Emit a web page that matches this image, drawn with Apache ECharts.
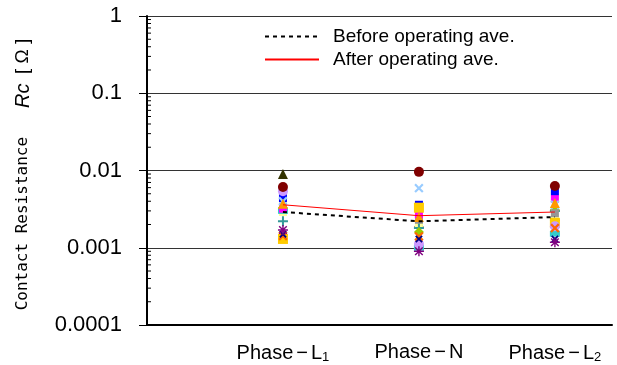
<!DOCTYPE html>
<html>
<head>
<meta charset="utf-8">
<script src="https://cdn.jsdelivr.net/npm/echarts@6/dist/echarts.min.js"></script>
<style>
  html, body { margin: 0; padding: 0; background: #fff; }
  #chart { width: 617px; height: 365px; }
</style>
</head>
<body>
<div id="chart"></div>
<script>
// Phase positions on the horizontal value axis
const phasePos = [1, 2, 3];
const phaseNames = ['Phase{d|−}L{sub|1}', 'Phase{d|−}N', 'Phase{d|−}L{sub|2}'];

// Decade tick labels on the log axis
const yTicks = [0.0001, 0.001, 0.01, 0.1, 1];

// Averages per phase [L1, N, L2]
const beforeAve = [0.0029, 0.0022, 0.0025];
const afterAve  = [0.0036, 0.0026, 0.0029];

// Individual contact measurements per sample, [L1, N, L2]
const sOlive     = [0.0090, 0.0021, 0.0026];
const sDarkRed   = [0.0061, 0.0096, 0.0063];
const sBlue      = [0.0044, 0.0036, 0.0054];
const sLightBlue = [0.0040, 0.0059, 0.0036];
const sPlum      = [0.0054, 0.00112, 0.0019];
const sMagenta   = [0.0032, 0.0027, 0.0043];
const sOrangeTri = [0.0037, 0.0025, 0.0038];
const sGray      = [0.0034, 0.0023, 0.0028];
const sGreen     = [0.0033, 0.0016, 0.0031];
const sGold      = [0.0013, 0.0033, 0.0021];
const sTealPlus  = [0.0022, 0.0018, 0.0030];
const sTurq      = [0.0030, 0.00100, 0.00152];
const sLightYel  = [0.0029, 0.0020, 0.0024];
const sOrangeX   = [0.00142, 0.0014, 0.0018];
const sNavyX     = [0.0015, 0.0013, 0.0013];
const sPurple    = [0.0017, 0.00090, 0.00118];

// Log minor tick values (2..9 within each decade)
const minorVals = [];
for (let d = -4; d < 0; d++) {
  for (let k = 2; k <= 9; k++) minorVals.push(+(k * Math.pow(10, d)).toPrecision(3));
}

const plusPath = 'path://M4,0H6V4H10V6H6V10H4V6H0V4H4Z';
const starPath = 'path://M4.3,0H5.7V3.3L8.3,0.7L9.3,1.7L6.7,4.3H10V5.7H6.7L9.3,8.3L8.3,9.3L5.7,6.7V10H4.3V6.7L1.7,9.3L0.7,8.3L3.3,5.7H0V4.3H3.3L0.7,1.7L1.7,0.7L4.3,3.3Z';

const samples = [
  { data: sOlive,     color: '#333300', symbol: 'triangle', size: 10 },
  { data: sLightYel,  color: '#ffff99', symbol: 'rect',     size: 8 },
  { data: sTurq,      color: '#33cccc', symbol: 'rect',     size: [10, 6] },
  { data: sTealPlus,  color: '#339999', symbol: plusPath,   size: 10 },
  { data: sGreen,     color: '#99cc00', symbol: 'diamond',  size: 10 },
  { data: sGray,      color: '#969696', symbol: 'rect',     size: 8 },
  { data: sMagenta,   color: '#ff00ff', symbol: 'rect',     size: 8 },
  { data: sBlue,      color: '#0000ff', symbol: 'rect',     size: 8 },
  { data: sLightBlue, color: '#99ccff', symbol: plusPath,   size: 11, rotate: 45 },
  { data: sGold,      color: '#ffcc00', symbol: 'rect',     size: 10 },
  { data: sOrangeTri, color: '#ff9900', symbol: 'triangle', size: 10 },
  { data: sPlum,      color: '#cc99ff', symbol: 'circle',   size: 10 },
  { data: sOrangeX,   color: '#ff6600', symbol: plusPath,   size: 11, rotate: 45 },
  { data: sNavyX,     color: '#000080', symbol: plusPath,   size: 9, rotate: 45 },
  { data: sPurple,    color: '#800080', symbol: starPath,   size: 10 },
  { data: sDarkRed,   color: '#800000', symbol: 'circle',   size: 10 }
];

const fontMain = '"Liberation Sans", Arial, sans-serif';

const series = samples.map(s => ({
  type: 'scatter',
  data: phasePos.map((x, i) => [x, s.data[i]]),
  symbol: s.symbol,
  symbolSize: s.size,
  symbolRotate: s.rotate || 0,
  itemStyle: { color: s.color, opacity: 1 },
  z: 3,
  silent: true
}));

series.push({
  name: 'Before operating ave.',
  type: 'line',
  data: phasePos.map((x, i) => [x, beforeAve[i]]),
  symbol: 'none',
  lineStyle: { color: '#000', width: 2, type: [4, 4] },
  itemStyle: { color: '#000' },
  z: 5
});
series.push({
  name: 'After operating ave.',
  type: 'line',
  data: phasePos.map((x, i) => [x, afterAve[i]]),
  symbol: 'none',
  lineStyle: { color: '#ff0000', width: 1 },
  itemStyle: { color: '#ff0000' },
  z: 5
});

// Short inward log minor ticks along the left axis
series.push({
  type: 'custom',
  data: minorVals.map(v => [0, v]),
  silent: true,
  clip: false,
  z: 6,
  renderItem: (params, api) => {
    const p = api.coord([api.value(0), api.value(1)]);
    return {
      type: 'line',
      shape: { x1: p[0], y1: p[1], x2: p[0] + 4, y2: p[1] },
      style: { stroke: '#000', lineWidth: 1 }
    };
  }
});

const chart = echarts.init(document.getElementById('chart'), null, { renderer: 'canvas' });
chart.setOption({
  animation: false,
  backgroundColor: '#fff',
  grid: { left: 147, top: 16, right: 5, bottom: 40, containLabel: false },
  legend: {
    data: ['Before operating ave.', 'After operating ave.'],
    orient: 'vertical',
    left: 259,
    top: 22,
    itemWidth: 54,
    itemHeight: 14,
    itemGap: 4,
    itemStyle: { opacity: 0 },
    textStyle: { fontFamily: fontMain, fontSize: 19, lineHeight: 14, color: '#000', padding: [0, 0, 0, 9] },
    selectedMode: false
  },
  xAxis: {
    type: 'value',
    min: 0,
    max: 3.42,
    interval: 1,
    axisLine: { show: true, lineStyle: { color: '#000', width: 2 } },
    axisTick: { show: false },
    splitLine: { show: false },
    axisLabel: {
      showMaxLabel: false,
      margin: 17,
      formatter: v => (v >= 1 && v <= 3 && Number.isInteger(v)) ? phaseNames[v - 1] : '',
      fontFamily: fontMain,
      fontSize: 20,
      color: '#000',
      rich: {
        d: { fontFamily: fontMain, fontSize: 20, color: '#000', padding: [0, 3, 0, 3] },
        sub: { fontFamily: fontMain, fontSize: 13, color: '#000', verticalAlign: 'bottom', padding: [9, 0, 0, 0] }
      }
    }
  },
  yAxis: {
    type: 'log',
    logBase: 10,
    min: yTicks[0],
    max: yTicks[yTicks.length - 1],
    name: 'Contact Resistance   {i|Rc} {b|[ Ω ]}',
    nameLocation: 'middle',
    nameRotate: 90,
    nameGap: 114,
    nameTextStyle: {
      fontFamily: '"DejaVu Sans Mono", monospace',
      fontSize: 16,
      color: '#000',
      padding: [0, 8, 0, 0],
      rich: {
        i: { fontFamily: fontMain, fontStyle: 'italic', fontSize: 20, color: '#000' },
        b: { fontFamily: fontMain, fontSize: 19, color: '#000' }
      }
    },
    axisLine: { show: true, lineStyle: { color: '#000', width: 2 } },
    axisTick: { show: true, length: 8, inside: false, lineStyle: { color: '#000' } },
    splitLine: { show: true, lineStyle: { color: '#333', width: 1 } },
    axisLabel: {
      margin: 25,
      fontFamily: fontMain,
      fontSize: 22,
      color: '#000',
      formatter: v => {
        const e = Math.round(Math.log10(v));
        return e >= 0 ? '1' : v.toFixed(-e);
      }
    }
  },
  series
});
</script>
</body>
</html>
